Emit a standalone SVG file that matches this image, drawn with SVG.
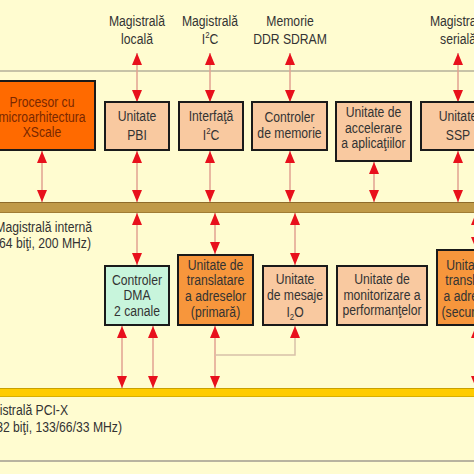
<svg xmlns="http://www.w3.org/2000/svg" width="474" height="474" viewBox="0 0 474 474">
<defs>
<style>
text{font-family:"Liberation Sans",Arial,sans-serif;font-size:14px;fill:#333;text-anchor:middle}
.pt{fill:#7a2800}
.lab{text-anchor:end}
.box{stroke:#1a1a1a;stroke-width:2}
.peach{fill:#f9c9a0}
.orange{fill:#f7963c}
.red{fill:#ff6a00}
.green{fill:#c8f5dc}
.ar{stroke:#e2a292;stroke-width:1.5;fill:none;marker-start:url(#ah);marker-end:url(#ah)}
.ar1{stroke:#d8c0a8;stroke-width:1.5;fill:none;marker-end:url(#ah)}
</style>
<marker id="ah" viewBox="0 0 12 10" refX="12" refY="5" markerWidth="12" markerHeight="10" markerUnits="userSpaceOnUse" orient="auto-start-reverse">
<path d="M0,0 L12,5 L0,10 z" fill="#e8101c"/>
</marker>
</defs>
<rect x="0" y="0" width="474" height="474" fill="#fffcd0"/>
<line x1="0" y1="71" x2="474" y2="71" stroke="#b5b09a" stroke-width="1.5"/>
<line x1="0" y1="461" x2="474" y2="461" stroke="#b8b3a0" stroke-width="2"/>

<g id="bus-internal">
<rect x="-2" y="202" width="478" height="11" fill="#c09a48"/>
<line x1="0" y1="202.5" x2="474" y2="202.5" stroke="#8e6b2a"/>
<line x1="0" y1="212.5" x2="474" y2="212.5" stroke="#a07c34"/>
<text class="lab" transform="translate(92 232) scale(0.87 1)">Magistrală internă</text>
<text class="lab" transform="translate(91 248) scale(0.87 1)">(64 biţi, 200 MHz)</text>
</g>
<g id="bus-pci">
<rect x="-2" y="388" width="478" height="9" fill="#ffcc00"/>
<line x1="0" y1="388.5" x2="474" y2="388.5" stroke="#c8a000"/>
<line x1="0" y1="396.5" x2="474" y2="396.5" stroke="#d8b000"/>
<text class="lab" transform="translate(68 415) scale(0.87 1)">Magistrală PCI-X</text>
<text class="lab" transform="translate(122 432) scale(0.87 1)">(32 biţi, 133/66/33 MHz)</text>
</g>

<g id="labels-top">
<text transform="translate(137 26) scale(0.87 1)">Magistrală</text>
<text transform="translate(137 44) scale(0.87 1)">locală</text>
<text transform="translate(210 26) scale(0.87 1)">Magistrală</text>
<text transform="translate(210 44) scale(0.87 1)">I<tspan font-size="9" dy="-6">2</tspan><tspan dy="6">C</tspan></text>
<text transform="translate(290 26) scale(0.87 1)">Memorie</text>
<text transform="translate(290 44) scale(0.87 1)">DDR SDRAM</text>
<text transform="translate(458 26) scale(0.87 1)">Magistrală</text>
<text transform="translate(458 44) scale(0.87 1)">serială</text>
</g>

<g id="connectors">
<line class="ar" x1="137" y1="53" x2="137" y2="102"/>
<line class="ar" x1="210" y1="53" x2="210" y2="102"/>
<line class="ar" x1="290" y1="53" x2="290" y2="102"/>
<line class="ar" x1="458" y1="53" x2="458" y2="102"/>
<line class="ar" x1="42" y1="151" x2="42" y2="202"/>
<line class="ar" x1="137" y1="151" x2="137" y2="202"/>
<line class="ar" x1="210" y1="151" x2="210" y2="202"/>
<line class="ar" x1="290" y1="151" x2="290" y2="202"/>
<line class="ar" x1="374" y1="162" x2="374" y2="202"/>
<line class="ar" x1="458" y1="151" x2="458" y2="202"/>
<line class="ar" x1="137" y1="213" x2="137" y2="265"/>
<line class="ar" x1="215" y1="213" x2="215" y2="254"/>
<line class="ar" x1="295" y1="213" x2="295" y2="265"/>
<line class="ar" x1="476" y1="213" x2="476" y2="249"/>
<line class="ar" x1="122" y1="326" x2="122" y2="388"/>
<line class="ar" x1="153" y1="326" x2="153" y2="388"/>
<line class="ar" x1="215" y1="326" x2="215" y2="388"/>
<line class="ar" x1="476" y1="326" x2="476" y2="388"/>
<polyline class="ar1" points="215,355 295,355 295,326"/>
</g>

<g id="procesor">
<rect class="box red" x="-12" y="81" width="107" height="69"/>
<text class="pt" transform="translate(42 107) scale(0.87 1)">Procesor cu</text>
<text class="pt" transform="translate(42 122) scale(0.87 1)">microarhitectura</text>
<text class="pt" transform="translate(42 137) scale(0.87 1)">XScale</text>
</g>
<g id="pbi">
<rect class="box peach" x="105" y="102" width="64" height="48"/>
<text transform="translate(137 121) scale(0.87 1)">Unitate</text>
<text transform="translate(137 140) scale(0.87 1)">PBI</text>
</g>
<g id="i2c">
<rect class="box peach" x="179" y="102" width="64" height="48"/>
<text transform="translate(211 121) scale(0.87 1)">Interfaţă</text>
<text transform="translate(211 140) scale(0.87 1)">I<tspan font-size="9" dy="-6">2</tspan><tspan dy="6">C</tspan></text>
</g>
<g id="memorie">
<rect class="box peach" x="252" y="102" width="75" height="48"/>
<text transform="translate(289.5 122) scale(0.87 1)">Controler</text>
<text transform="translate(289.5 138) scale(0.87 1)">de memorie</text>
</g>
<g id="accelerare">
<rect class="box peach" x="336" y="102" width="75" height="59"/>
<text transform="translate(373.5 117) scale(0.87 1)">Unitate de</text>
<text transform="translate(373.5 133) scale(0.87 1)">accelerare</text>
<text transform="translate(373.5 148) scale(0.87 1)">a aplicaţiilor</text>
</g>
<g id="ssp">
<rect class="box peach" x="421" y="102" width="74" height="48"/>
<text transform="translate(458 121) scale(0.87 1)">Unitate</text>
<text transform="translate(458 140) scale(0.87 1)">SSP</text>
</g>
<g id="dma">
<rect class="box green" x="105" y="266" width="64" height="59"/>
<text transform="translate(137 285) scale(0.87 1)">Controler</text>
<text transform="translate(137 300) scale(0.87 1)">DMA</text>
<text transform="translate(137 316) scale(0.87 1)">2 canale</text>
</g>
<g id="translatare-primara">
<rect class="box orange" x="178" y="255" width="75" height="70"/>
<text transform="translate(215.5 270) scale(0.87 1)">Unitate de</text>
<text transform="translate(215.5 285) scale(0.87 1)">translatare</text>
<text transform="translate(215.5 301) scale(0.87 1)">a adreselor</text>
<text transform="translate(215.5 317) scale(0.87 1)">(primară)</text>
</g>
<g id="mesaje">
<rect class="box peach" x="263" y="266" width="64" height="59"/>
<text transform="translate(295 284) scale(0.87 1)">Unitate</text>
<text transform="translate(295 300) scale(0.87 1)">de mesaje</text>
<text transform="translate(295 317) scale(0.87 1)">I<tspan font-size="9" dy="3">2</tspan><tspan dy="-3">O</tspan></text>
</g>
<g id="monitorizare">
<rect class="box peach" x="337" y="266" width="90" height="59"/>
<text transform="translate(382 284) scale(0.87 1)">Unitate de</text>
<text transform="translate(382 300) scale(0.87 1)">monitorizare a</text>
<text transform="translate(382 315) scale(0.87 1)">performanţelor</text>
</g>
<g id="translatare-secundara">
<rect class="box orange" x="437" y="250" width="74" height="75"/>
<text transform="translate(474 270) scale(0.87 1)">Unitate de</text>
<text transform="translate(474 285) scale(0.87 1)">translatare</text>
<text transform="translate(474 301) scale(0.87 1)">a adreselor</text>
<text transform="translate(474 317) scale(0.87 1)">(secundară)</text>
</g>
</svg>
